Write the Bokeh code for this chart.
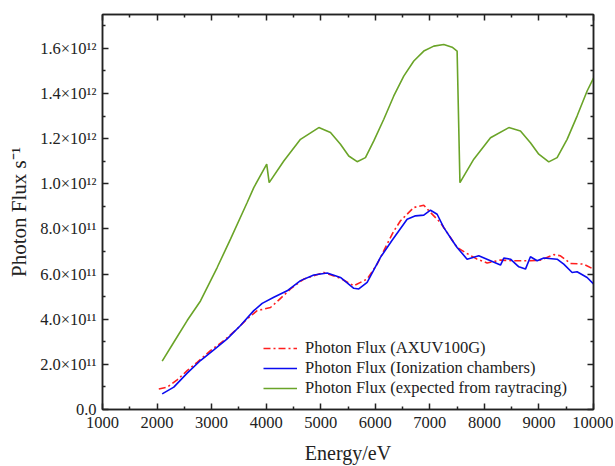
from bokeh.plotting import figure
from bokeh.models import LinearAxis, FixedTicker, Legend, LegendItem, Range1d, CustomJSTickFormatter
from bokeh.embed import file_html
from bokeh.resources import INLINE

# ---- data ----
ray_E = [2094, 2307, 2552, 2796, 3102, 3346, 3652, 3773, 4010, 4055, 4323, 4629, 4965, 5179, 5362,
         5514, 5668, 5820, 5973, 6156, 6339, 6522, 6706, 6889, 7072, 7256, 7409, 7500, 7552, 7806,
         8112, 8448, 8661, 8844, 8997, 9180, 9333, 9516, 9699, 9883, 10000]
ray_F = [0.214e12, 0.298e12, 0.394e12, 0.481e12, 0.629e12, 0.755e12, 0.917e12, 0.983e12, 1.087e12,
         1.005e12, 1.101e12, 1.197e12, 1.249e12, 1.227e12, 1.175e12, 1.123e12, 1.098e12, 1.116e12,
         1.190e12, 1.286e12, 1.389e12, 1.477e12, 1.544e12, 1.588e12, 1.610e12, 1.617e12, 1.605e12,
         1.588e12, 1.005e12, 1.109e12, 1.204e12, 1.249e12, 1.234e12, 1.182e12, 1.131e12, 1.097e12,
         1.116e12, 1.197e12, 1.300e12, 1.411e12, 1.468e12]

ion_E = [2094, 2307, 2552, 2796, 3040, 3285, 3529, 3773, 3927, 4140, 4384, 4629, 4873, 5118, 5362, 5606,
         5698, 5851, 6095, 6309, 6584, 6737, 6889, 7012, 7134, 7256, 7409, 7500, 7683, 7897, 8112, 8295,
         8356, 8478, 8631, 8753, 8844, 8967, 9089, 9333, 9455, 9608, 9699, 9883, 10000]
ion_F = [0.069e12, 0.099e12, 0.161e12, 0.217e12, 0.264e12, 0.313e12, 0.372e12, 0.438e12, 0.470e12,
         0.497e12, 0.526e12, 0.571e12, 0.596e12, 0.605e12, 0.585e12, 0.537e12, 0.534e12, 0.563e12,
         0.674e12, 0.750e12, 0.843e12, 0.858e12, 0.861e12, 0.883e12, 0.865e12, 0.806e12, 0.750e12,
         0.718e12, 0.666e12, 0.681e12, 0.659e12, 0.640e12, 0.671e12, 0.666e12, 0.632e12, 0.622e12,
         0.677e12, 0.659e12, 0.671e12, 0.666e12, 0.644e12, 0.607e12, 0.610e12, 0.585e12, 0.556e12]

axuv_E = [2032, 2185, 2368, 2552, 2735, 2979, 3223, 3468, 3651, 3835, 4079, 4201, 4446, 4690, 5057,
          5362, 5606, 5851, 6034, 6217, 6339, 6462, 6706, 6889, 7012, 7195, 7378, 7500, 7683, 7866,
          8050, 8295, 8539, 8844, 9028, 9272, 9394, 9578, 9822, 10000]
axuv_F = [0.091e12, 0.099e12, 0.131e12, 0.172e12, 0.209e12, 0.261e12, 0.305e12, 0.357e12, 0.401e12,
          0.438e12, 0.452e12, 0.478e12, 0.534e12, 0.578e12, 0.607e12, 0.581e12, 0.548e12, 0.578e12,
          0.644e12, 0.733e12, 0.790e12, 0.836e12, 0.895e12, 0.905e12, 0.873e12, 0.828e12, 0.762e12,
          0.718e12, 0.691e12, 0.666e12, 0.649e12, 0.662e12, 0.659e12, 0.659e12, 0.662e12, 0.686e12,
          0.681e12, 0.647e12, 0.644e12, 0.622e12]

x_ticks = [1000, 2000, 3000, 4000, 5000, 6000, 7000, 8000, 9000, 10000]
x_minor = [1500, 2500, 3500, 4500, 5500, 6500, 7500, 8500, 9500]
y_ticks = [0, 200000000000, 400000000000, 600000000000, 800000000000, 1000000000000,
           1200000000000, 1400000000000, 1600000000000]
y_tick_labels = ["0.0", "2.0×10¹¹", "4.0×10¹¹", "6.0×10¹¹", "8.0×10¹¹", "1.0×10¹²",
                 "1.2×10¹²", "1.4×10¹²", "1.6×10¹²"]
y_minor = [100000000000, 300000000000, 500000000000, 700000000000, 900000000000,
           1100000000000, 1300000000000, 1500000000000, 1700000000000]

labels = ["Photon Flux (AXUV100G)", "Photon Flux (Ionization chambers)",
          "Photon Flux (expected from raytracing)"]

FONT = "Liberation Serif"
INK = "#222222"

p = figure(width=613, height=466, output_backend="svg", toolbar_location=None,
           x_range=Range1d(1000, 10000), y_range=Range1d(0, 1.75e12),
           x_axis_type=None, y_axis_type=None,
           min_border_left=102, min_border_right=20, min_border_top=14, min_border_bottom=57)
p.grid.visible = False
p.outline_line_color = INK
p.outline_line_width = 1.5

xt = FixedTicker(ticks=x_ticks, minor_ticks=x_minor)
yt = FixedTicker(ticks=y_ticks, minor_ticks=y_minor)


def style(ax, show_labels):
    ax.axis_line_color = INK
    ax.axis_line_width = 1.5
    ax.major_tick_in = 6
    ax.major_tick_out = 0
    ax.minor_tick_in = 3
    ax.minor_tick_out = 0
    ax.major_tick_line_color = INK
    ax.minor_tick_line_color = INK
    ax.major_tick_line_width = 1.5
    ax.minor_tick_line_width = 1.5
    ax.major_label_text_font = FONT
    ax.major_label_text_font_size = "16.5px"
    ax.major_label_text_color = INK
    ax.axis_label_text_font = FONT
    ax.axis_label_text_font_style = "normal"
    ax.axis_label_text_font_size = "20px"
    ax.axis_label_text_color = INK
    if not show_labels:
        ax.formatter = CustomJSTickFormatter(code="return '';")
        ax.major_label_text_font_size = "0px"
        ax.major_label_standoff = 0


xb = LinearAxis(ticker=xt, axis_label="Energy/eV")
style(xb, True)
xb.major_label_standoff = 7
xb.axis_label_standoff = 11
p.add_layout(xb, "below")

yl = LinearAxis(ticker=yt, axis_label="Photon Flux s⁻¹")
style(yl, True)
yl.axis_label_text_font_size = "21px"
yl.major_label_overrides = dict(zip(y_ticks, y_tick_labels))
yl.major_label_standoff = 6
yl.axis_label_standoff = 6
p.add_layout(yl, "left")

xa = LinearAxis(ticker=xt)
style(xa, False)
p.add_layout(xa, "above")

yr = LinearAxis(ticker=yt)
style(yr, False)
p.add_layout(yr, "right")

r_axuv = p.line(axuv_E, axuv_F, line_color="#FF1F1F", line_width=1.6, line_dash="7 3 2 3")
r_ion = p.line(ion_E, ion_F, line_color="#0B0BF0", line_width=1.6)
r_ray = p.line(ray_E, ray_F, line_color="#6AA428", line_width=1.6)

legend = Legend(items=[LegendItem(label=labels[0], renderers=[r_axuv]),
                       LegendItem(label=labels[1], renderers=[r_ion]),
                       LegendItem(label=labels[2], renderers=[r_ray])],
                location=(161, 11), glyph_width=34, glyph_height=20, label_height=20,
                label_standoff=8, padding=0, spacing=0, margin=0,
                background_fill_alpha=0, border_line_color=None,
                label_text_font=FONT, label_text_font_size="16.5px", label_text_color=INK)
p.add_layout(legend, "center")

open("out.html", "w").write(file_html(p, INLINE))
